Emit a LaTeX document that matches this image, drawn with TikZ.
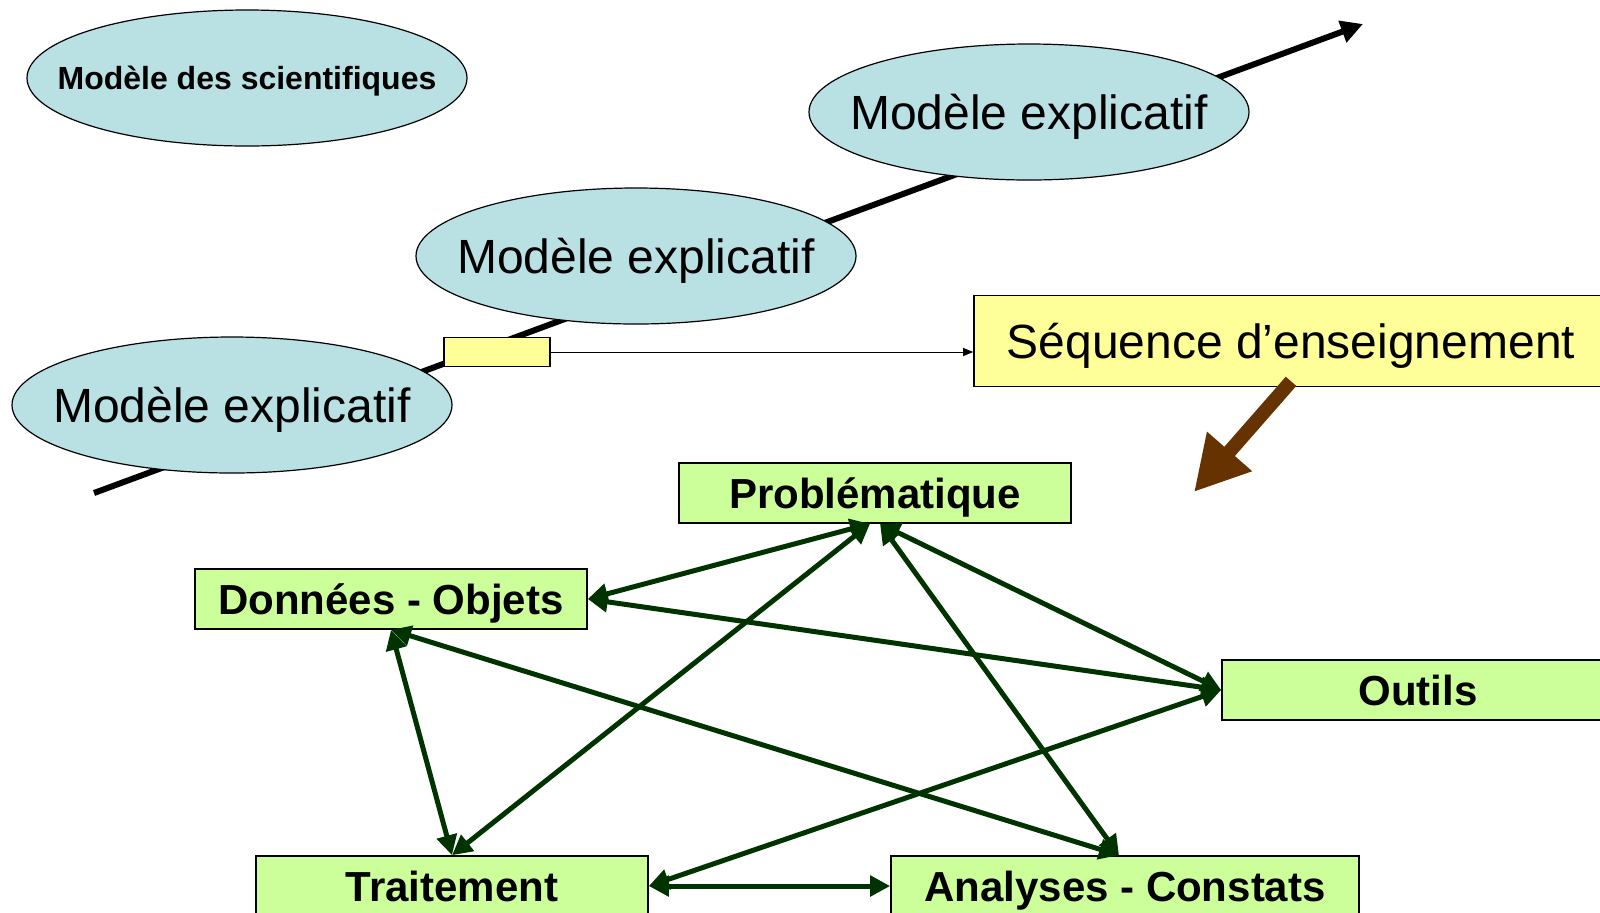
\documentclass[tikz,border=0pt]{standalone}
\usepackage{fontspec}
\setmainfont{Liberation Sans}
\usetikzlibrary{shapes,arrows.meta,positioning,calc}

\definecolor{bleuModele}{RGB}{185,224,227}
\definecolor{jauneSeq}{RGB}{255,255,153}
\definecolor{vertEtape}{RGB}{204,255,153}
\definecolor{vertFleche}{RGB}{0,51,0}
\definecolor{brunFleche}{RGB}{102,51,0}

\begin{document}
\begin{tikzpicture}[
    x=0.5pt, y=-0.5pt,
    modele/.style={ellipse, draw, fill=bleuModele, line width=0.6pt, minimum width=220pt, minimum height=68pt, inner sep=0pt},
    modele_texte/.style={font=\fontsize{24}{28}\selectfont, text depth=0pt},
    sequence/.style={rectangle, draw, fill=jauneSeq, line width=0.8pt, inner sep=0pt, text depth=0pt},
    etape/.style={rectangle, draw, fill=vertEtape, line width=0.8pt, minimum width=196pt, minimum height=30pt, inner sep=0pt, text depth=0pt, font=\fontsize{21}{25}\selectfont\bfseries},
    lien/.style={{Triangle[length=10pt,width=10pt]}-{Triangle[length=10pt,width=10pt]}, line width=2.5pt, vertFleche},
    axe/.style={-{Triangle[length=11pt,width=11pt]}, line width=3pt},
    grosse_fleche/.style={-{Triangle[length=27pt,width=28pt]}, line width=7pt, brunFleche}
]
\useasboundingbox (0,0) rectangle (1600,912);

% axe des modeles
\coordinate (axe_debut) at (94,493);
\coordinate (axe_fin) at (1363,24);
\draw[axe] (axe_debut) -- (axe_fin);

% modeles
\node[modele, label={[modele_texte]center:Modèle explicatif}] (modele1) at (232,405) {};
\node[modele, label={[modele_texte]center:Modèle explicatif}] (modele2) at (636,256) {};
\node[modele, label={[modele_texte]center:Modèle explicatif}] (modele3) at (1029,112) {};
\node[modele, label={[font=\fontsize{16}{19}\selectfont\bfseries, text depth=0pt]center:Modèle des scientifiques}] (scientifiques) at (247,78) {};

% sequence
\node[sequence, minimum width=53pt, minimum height=14.5pt] (etape_seq) at (497,352) {};
\node[sequence, minimum width=317pt, minimum height=45.5pt, font=\fontsize{24}{28}\selectfont] (seq) at (1291,341) {Séquence d’enseignement};
\draw[-{Triangle[length=5pt,width=4pt]}, line width=0.5pt] (etape_seq.east) -- (etape_seq.east -| seq.west);

% etapes de la demarche
\node[etape] (prob) at (875,493) {Problématique};
\node[etape] (donnees) at (391,599) {Données - Objets};
\node[etape] (outils) at (1418,690) {Outils};
\node[etape] (traitement) at (452,886) {Traitement};
\node[etape, minimum width=234pt] (analyses) at (1125,886) {Analyses - Constats};

\coordinate (fleche_fin) at (1194,492);
\draw[grosse_fleche] ([yshift=3pt]seq.south) -- (fleche_fin);

% liens entre etapes
\draw[lien] ([xshift=-2.5pt]prob.south) -- (donnees.east);
\draw[lien] ([xshift=-2.5pt]prob.south) -- (traitement.north);
\draw[lien] ([xshift=2.5pt]prob.south) -- ([xshift=-3pt]analyses.north);
\draw[lien] ([xshift=2.5pt]prob.south) -- (outils.west);
\draw[lien] (donnees.east) -- (outils.west);
\draw[lien] (donnees.south) -- ([xshift=-3pt]analyses.north);
\draw[lien] (donnees.south) -- (traitement.north);
\draw[lien] (traitement.east) -- (outils.west);
\draw[lien] (traitement.east) -- (analyses.west);

\end{tikzpicture}
\end{document}
